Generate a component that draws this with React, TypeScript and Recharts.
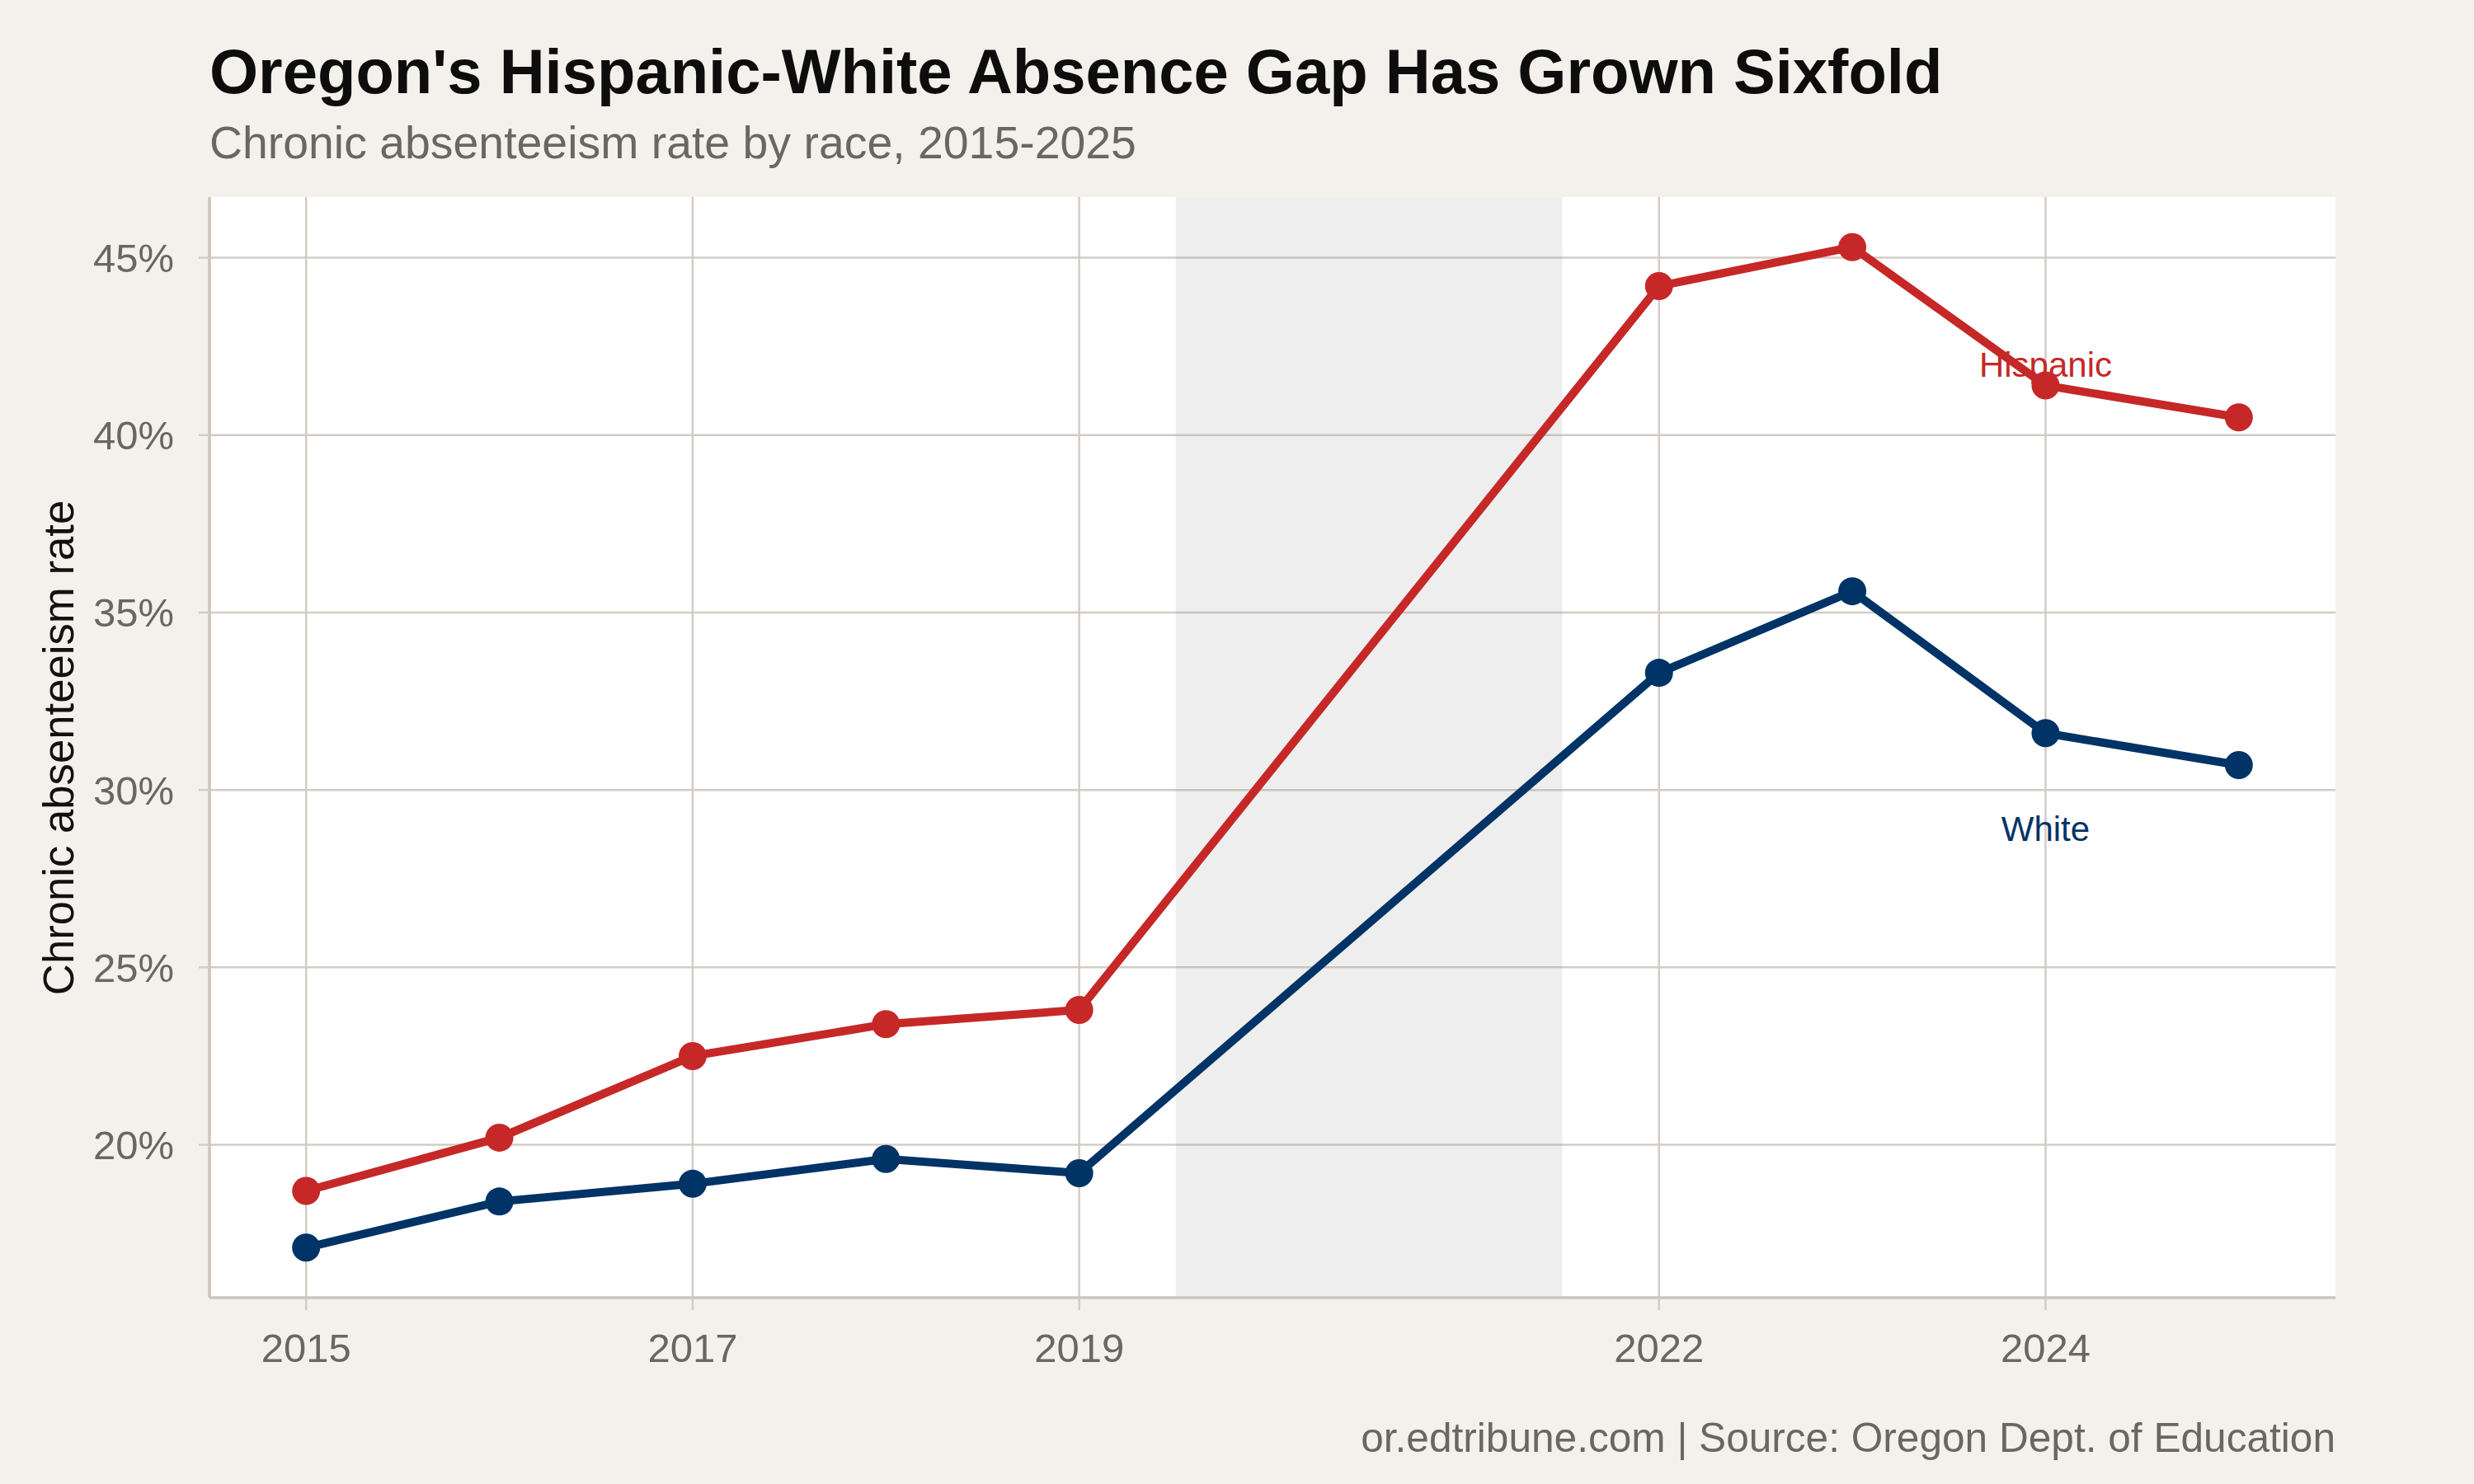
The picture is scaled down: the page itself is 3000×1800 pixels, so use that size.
import React from "react";
import {
  LineChart,
  Line,
  XAxis,
  YAxis,
  CartesianGrid,
  ReferenceArea,
  ReferenceDot
} from "recharts";

// Chronic absenteeism rate (%) by school year; 2020 and 2021 not reported
const years = [2015, 2016, 2017, 2018, 2019, 2022, 2023, 2024, 2025];
const hispanicRates = [18.7, 20.2, 22.5, 23.4, 23.8, 44.2, 45.3, 41.4, 40.5];
const whiteRates = [17.1, 18.4, 18.9, 19.6, 19.2, 33.3, 35.6, 31.6, 30.7];

const yearTicks = [2015, 2017, 2019, 2022, 2024];
const rateTicks = [20, 25, 30, 35, 40, 45];

// pandemic gap shaded between the last pre-COVID year and the first one back
const gapStart = 2019.5;
const gapEnd = 2021.5;

// direct labels instead of a legend: [series, year, rate the label sits at]
const seriesLabels: [string, number, number][] = [
  ["Hispanic", 2024, 42.0],
  ["White", 2024, 28.9]
];

const FONT = '"Liberation Sans", Arial, Helvetica, sans-serif';
const RED = "#c62828";
const NAVY = "#003366";
const GRAY_TEXT = "#6b6661";
const GRID = "#d2ccc4";
const AXIS = "#ccc5bc";
const BG = "#f4f1ec";

const chartData = years.map((year, i) => ({
  year,
  hispanic: hispanicRates[i],
  white: whiteRates[i]
}));

// 5% padding on either side, like ggplot's default expansion
const pad = (lo: number, hi: number): [number, number] => {
  const d = (hi - lo) * 0.05;
  return [lo - d, hi + d];
};
const allRates = [...hispanicRates, ...whiteRates];
const yDomain = pad(Math.min(...allRates), Math.max(...allRates));
const xDomain = pad(years[0], years[years.length - 1]);

const labelColor: Record<string, string> = { Hispanic: RED, White: NAVY };

export default function App() {
  return (
    <div
      style={{
        position: "relative",
        width: 3000,
        height: 1800,
        background: BG,
        fontFamily: FONT,
        overflow: "hidden"
      }}
    >
      <style>{"body{margin:0}"}</style>
      <div
        style={{
          position: "absolute",
          left: 254,
          top: 49,
          fontSize: 76,
          lineHeight: "76px",
          fontWeight: 700,
          color: "#0d0d0d",
          whiteSpace: "nowrap"
        }}
      >
        Oregon's Hispanic-White Absence Gap Has Grown Sixfold
      </div>
      <div
        style={{
          position: "absolute",
          left: 254,
          top: 146,
          fontSize: 55.4,
          lineHeight: "55px",
          color: GRAY_TEXT,
          whiteSpace: "nowrap"
        }}
      >
        Chronic absenteeism rate by race, 2015-2025
      </div>

      <div style={{ position: "absolute", left: 0, top: 0 }}>
        <LineChart
          width={3000}
          height={1800}
          data={chartData}
          margin={{ top: 239, right: 168, bottom: 126, left: 0 }}
        >
          <CartesianGrid
            fill="#ffffff"
            stroke={GRID}
            strokeWidth={2.5}
            horizontalValues={rateTicks}
            verticalValues={yearTicks}
          />
          <ReferenceArea
            x1={gapStart}
            x2={gapEnd}
            fill="#999999"
            fillOpacity={0.17}
            stroke="none"
          />
          <XAxis
            dataKey="year"
            type="number"
            domain={xDomain}
            ticks={yearTicks}
            allowDataOverflow
            height={100}
            tickSize={15}
            tickMargin={28}
            tick={{ fontSize: 49, fill: GRAY_TEXT, fontFamily: FONT }}
            tickLine={{ stroke: GRID, strokeWidth: 2.5 }}
            axisLine={{ stroke: AXIS, strokeWidth: 3.5 }}
          />
          <YAxis
            type="number"
            domain={yDomain}
            ticks={rateTicks}
            allowDataOverflow
            width={254}
            tickSize={13}
            tickMargin={30}
            tickFormatter={(v: number) => `${v}%`}
            tick={{ fontSize: 49, fill: GRAY_TEXT, fontFamily: FONT }}
            tickLine={{ stroke: GRID, strokeWidth: 2.5 }}
            axisLine={{ stroke: AXIS, strokeWidth: 3.5 }}
            label={{
              value: "Chronic absenteeism rate",
              angle: -90,
              position: "insideLeft",
              content: () => (
                <text
                  x={89}
                  y={907}
                  transform="rotate(-90, 89, 907)"
                  textAnchor="middle"
                  fontSize={52.7}
                  fontFamily={FONT}
                  fill="#111"
                >
                  Chronic absenteeism rate
                </text>
              )
            }}
          />
          <Line
            dataKey="hispanic"
            type="linear"
            stroke={RED}
            strokeWidth={10}
            dot={{ r: 17, fill: RED, stroke: "none" }}
            activeDot={false}
            isAnimationActive={false}
          />
          <Line
            dataKey="white"
            type="linear"
            stroke={NAVY}
            strokeWidth={10}
            dot={{ r: 17, fill: NAVY, stroke: "none" }}
            activeDot={false}
            isAnimationActive={false}
          />
          {seriesLabels.map(([name, year, rate]) => (
            <ReferenceDot
              key={name}
              x={year}
              y={rate}
              r={0}
              fill="none"
              stroke="none"
              label={{
                value: name,
                position: "center",
                fontSize: 42,
                fontFamily: FONT,
                fill: labelColor[name]
              }}
            />
          ))}
        </LineChart>
      </div>

      <div
        style={{
          position: "absolute",
          right: 3000 - 2832,
          top: 1719,
          fontSize: 49.6,
          lineHeight: "50px",
          color: GRAY_TEXT,
          whiteSpace: "nowrap"
        }}
      >
        or.edtribune.com | Source: Oregon Dept. of Education
      </div>
    </div>
  );
}
